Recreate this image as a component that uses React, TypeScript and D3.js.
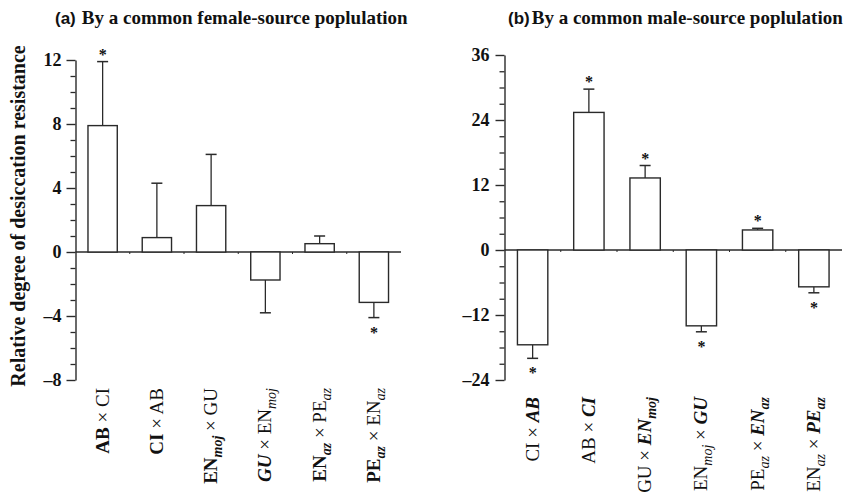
import React, { useRef, useEffect } from 'react';
import * as d3 from 'd3';

type Seg = { t: string; b?: boolean; i?: boolean; sub?: boolean };

// Panel (a): by a common female-source population
const labelsA: Seg[][] = [
  [{ t: 'AB', b: true }, { t: ' × CI' }],
  [{ t: 'CI', b: true }, { t: ' × AB' }],
  [{ t: 'EN', b: true }, { t: 'moj', b: true, i: true, sub: true }, { t: ' × GU' }],
  [{ t: 'GU', b: true, i: true }, { t: ' × EN' }, { t: 'moj', i: true, sub: true }],
  [{ t: 'EN', b: true }, { t: 'az', b: true, i: true, sub: true }, { t: ' × PE' }, { t: 'az', i: true, sub: true }],
  [{ t: 'PE', b: true }, { t: 'az', b: true, i: true, sub: true }, { t: ' × EN' }, { t: 'az', i: true, sub: true }],
];
const valuesA = [7.9, 0.9, 2.9, -1.75, 0.52, -3.15];
const errorsA = [4.0, 3.4, 3.2, 2.05, 0.48, 0.95];
const signifA = [true, false, false, false, false, true];
const majorTicksA = [-8, -4, 0, 4, 8, 12];

// Panel (b): by a common male-source population
const labelsB: Seg[][] = [
  [{ t: 'CI × ' }, { t: 'AB', b: true, i: true }],
  [{ t: 'AB × ' }, { t: 'CI', b: true, i: true }],
  [{ t: 'GU × ' }, { t: 'EN', b: true, i: true }, { t: 'moj', b: true, i: true, sub: true }],
  [{ t: 'EN' }, { t: 'moj', i: true, sub: true }, { t: ' × ' }, { t: 'GU', b: true, i: true }],
  [{ t: 'PE' }, { t: 'az', i: true, sub: true }, { t: ' × ' }, { t: 'EN', b: true, i: true }, { t: 'az', b: true, i: true, sub: true }],
  [{ t: 'EN' }, { t: 'az', i: true, sub: true }, { t: ' × ' }, { t: 'PE', b: true, i: true }, { t: 'az', b: true, i: true, sub: true }],
];
const valuesB = [-17.5, 25.4, 13.3, -14.0, 3.7, -6.8];
const errorsB = [2.5, 4.3, 2.3, 1.1, 0.3, 1.1];
const signifB = [true, true, true, true, true, true];
const majorTicksB = [-24, -12, 0, 12, 24, 36];

const SERIF = '"Liberation Serif", "Times New Roman", serif';
const SANS = '"Liberation Sans", Arial, sans-serif';
const INK = '#2a2a2a';

const fmt = (d: number) => (d < 0 ? '\u2013' + Math.abs(d) : String(d));

const App = () => {
  const svgRef = useRef<SVGSVGElement>(null);

  useEffect(() => {
    const svg = d3.select(svgRef.current);
    svg.selectAll('*').remove();

    const drawPanel = (opts: {
      labels: Seg[][]; values: number[]; errors: number[]; signif: boolean[];
      major: number[]; minorStep: number; x0: number; x1: number;
      yTop: number; yBot: number; labelY: number; tickPad: number;
    }) => {
      const { labels, values, errors, signif, major, minorStep } = opts;
      const ext = d3.extent(major) as [number, number];
      const y = d3.scaleLinear().domain(ext).range([opts.yBot, opts.yTop]);
      const x = d3.scaleBand<number>().domain(d3.range(values.length)).range([opts.x0, opts.x1]);
      const bw = x.bandwidth() * 0.54;
      const g = svg.append('g');

      // minor ticks
      const minor = d3.range(ext[0], ext[1] + 0.001, minorStep).filter(v => !major.includes(v));
      g.append('g')
        .attr('transform', `translate(${opts.x0},0)`)
        .call(d3.axisLeft(y).tickValues(minor).tickSize(5).tickFormat(() => ''))
        .call(s => s.select('.domain').remove())
        .selectAll('line').attr('stroke', INK).attr('stroke-width', 1.3);

      // major ticks + labels
      const ax = g.append('g')
        .attr('transform', `translate(${opts.x0},0)`)
        .call(d3.axisLeft(y).tickValues(major).tickSize(9).tickSizeOuter(0).tickPadding(opts.tickPad).tickFormat(d => fmt(+d)));
      ax.attr('font-family', null).attr('font-size', null);
      ax.select('.domain').attr('stroke', INK).attr('stroke-width', 1.4);
      ax.selectAll('line').attr('stroke', INK).attr('stroke-width', 1.4);
      ax.selectAll('text')
        .style('font-family', SERIF).style('font-weight', 'bold').style('font-size', '18px').attr('fill', '#111');

      // zero line with category separators
      const y0 = y(0);
      g.append('line')
        .attr('x1', opts.x0).attr('x2', opts.x1).attr('y1', y0).attr('y2', y0)
        .attr('stroke', INK).attr('stroke-width', 1.4);
      g.selectAll('line.sep').data(d3.range(1, values.length)).join('line')
        .attr('class', 'sep')
        .attr('x1', i => opts.x0 + i * x.step()).attr('x2', i => opts.x0 + i * x.step())
        .attr('y1', y0).attr('y2', y0 + 2)
        .attr('stroke', INK).attr('stroke-width', 1);

      // error bars (one-sided, away from zero)
      values.forEach((v, i) => {
        const cx = x(i)! + x.bandwidth() / 2;
        const end = v + Math.sign(v) * errors[i];
        g.append('line').attr('x1', cx).attr('x2', cx).attr('y1', y(v)).attr('y2', y(end))
          .attr('stroke', INK).attr('stroke-width', 1.3);
        g.append('line').attr('x1', cx - 5.5).attr('x2', cx + 5.5).attr('y1', y(end)).attr('y2', y(end))
          .attr('stroke', INK).attr('stroke-width', 1.5);
        if (signif[i]) {
          g.append('text')
            .attr('x', cx).attr('y', v > 0 ? y(end) - 2 : y(end) + 20)
            .attr('text-anchor', 'middle')
            .attr('font-family', SERIF).attr('font-weight', 'bold').attr('font-size', 16)
            .attr('fill', '#111').text('*');
        }
      });

      // bars
      g.selectAll('rect.bar').data(values).join('rect')
        .attr('class', 'bar')
        .attr('x', (_, i) => x(i)! + (x.bandwidth() - bw) / 2)
        .attr('width', bw)
        .attr('y', v => Math.min(y(v), y0))
        .attr('height', v => Math.abs(y(v) - y0))
        .attr('fill', 'white').attr('stroke', INK).attr('stroke-width', 1.4);

      // rotated category labels
      labels.forEach((segs, i) => {
        const cx = x(i)! + x.bandwidth() / 2 - 1;
        const t = g.append('text')
          .attr('transform', `translate(${cx},${opts.labelY}) rotate(-90)`)
          .attr('x', 0).attr('y', 7)
          .attr('text-anchor', 'end')
          .attr('font-family', SERIF).attr('font-size', 19).attr('fill', '#111');
        let prevSub = false;
        segs.forEach(s => {
          const ts = t.append('tspan').text(s.t)
            .attr('font-weight', s.b ? 'bold' : 'normal')
            .attr('font-style', s.i ? 'italic' : 'normal');
          if (s.sub) ts.attr('font-size', 14);
          if (s.sub && !prevSub) ts.attr('dy', 5);
          if (!s.sub && prevSub) ts.attr('dy', -5);
          prevSub = !!s.sub;
        });
      });
    };

    drawPanel({
      labels: labelsA, values: valuesA, errors: errorsA, signif: signifA,
      major: majorTicksA, minorStep: 1, x0: 75.5, x1: 401, yTop: 60, yBot: 380,
      labelY: 388, tickPad: 5,
    });
    drawPanel({
      labels: labelsB, values: valuesB, errors: errorsB, signif: signifB,
      major: majorTicksB, minorStep: 3, x0: 504.5, x1: 842, yTop: 55, yBot: 380,
      labelY: 397, tickPad: 6,
    });

    // panel titles
    const titles = [
      { tag: '(a)', text: 'By a common female-source poplulation', x: 55, gap: 6 },
      { tag: '(b)', text: 'By a common male-source poplulation', x: 508, gap: 2 },
    ];
    titles.forEach(tt => {
      const t = svg.append('text').attr('x', tt.x).attr('y', 24).attr('fill', '#111');
      t.append('tspan').attr('font-family', SANS).attr('font-weight', 'bold').attr('font-size', 17).text(tt.tag);
      t.append('tspan').attr('dx', tt.gap).attr('font-family', SERIF).attr('font-weight', 'bold').attr('font-size', 19).text(tt.text);
    });

    // y axis title
    svg.append('text')
      .attr('transform', 'translate(25,216) rotate(-90)')
      .attr('text-anchor', 'middle')
      .attr('font-family', SERIF).attr('font-weight', 'bold').attr('font-size', 20).attr('fill', '#111')
      .text('Relative degree of desiccation resistance');
  }, []);

  return (
    <svg ref={svgRef} width={844} height={502}
      style={{ position: 'absolute', left: 0, top: 0, background: 'white' }} />
  );
};

export default App;
